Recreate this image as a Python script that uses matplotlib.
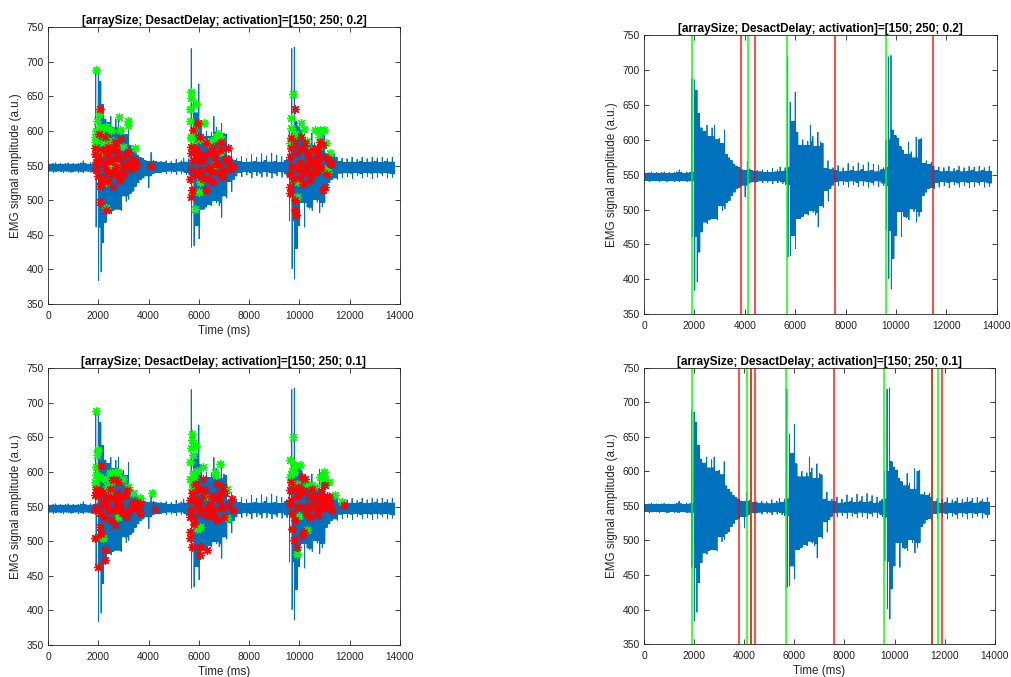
import numpy as np
import matplotlib.pyplot as plt

plt.rcParams['font.family'] = ['Liberation Sans', 'DejaVu Sans']

# EMG trace, upper and lower extremes for every 100 ms bin (0 .. 13700 ms)
bin_ms = 100
emg_hi = [553, 552, 553, 554, 552, 553, 552, 553, 554, 552, 553, 552, 553, 554, 557, 553, 552, 554, 553,
          688, 686, 671, 638, 617, 612, 621, 605, 617, 621, 600, 602, 595, 614, 579, 574, 570, 565, 562,
          560, 557, 556, 569, 558, 556, 555, 556,
          554, 557, 553, 556, 553, 559, 554, 557, 561, 555,
          560, 719, 654, 626, 668, 611, 592, 600, 592, 598, 621, 605, 590, 611, 597, 595, 559, 570, 557, 560,
          556, 563, 554, 560, 555, 566, 556, 562, 555, 567, 557, 564, 555, 568, 556, 565, 554, 563, 557, 560,
          600, 719, 721, 614, 606, 602, 590, 585, 579, 597, 583, 574, 604, 600, 602, 566, 570, 565, 568, 562,
          556, 561, 554, 560, 555, 562, 554, 559, 556, 562, 554, 560, 555, 562, 556, 561, 554, 562, 556, 560,
          555, 562]
emg_lo = [541, 542, 540, 541, 542, 541, 540, 542, 541, 540, 541, 542, 540, 541, 540, 542, 541, 540, 541,
          461, 384, 396, 439, 468, 482, 480, 485, 487, 487, 485, 506, 498, 501, 510, 513, 520, 525, 530,
          532, 535, 518, 535, 538, 540, 539, 540,
          541, 538, 542, 539, 541, 537, 542, 538, 540, 537,
          536, 432, 434, 463, 444, 487, 487, 490, 494, 492, 499, 496, 492, 475, 506, 503, 527, 512, 530, 535,
          540, 534, 541, 536, 540, 532, 541, 535, 539, 533, 541, 534, 540, 532, 539, 535, 541, 533, 538, 534,
          470, 401, 386, 430, 463, 497, 461, 490, 488, 485, 501, 497, 482, 490, 497, 520, 525, 530, 532, 530,
          539, 532, 540, 534, 539, 531, 540, 535, 538, 532, 540, 534, 539, 531, 540, 533, 539, 535, 540, 532,
          538, 533]

# detected samples, activation = 0.2
g02_t = [1924, 2030, 1964, 2057, 1884, 1858, 2123, 2322, 2521, 2826, 2853, 3185, 3185, 3450, 2190, 2654, 2986,
         2455, 2322, 2296, 2720, 2057, 1900, 2250, 2600, 2400,
         5706, 5706, 5666, 5640, 5905, 6197, 5812, 5706, 6038, 6370, 6701, 6768, 6038, 6011, 5839, 6568, 6834,
         5680, 5760, 6500, 6900,
         9754, 9661, 9688, 9820, 10085, 10178, 10616, 10841, 10974, 10788, 11080, 11212, 10483, 9953, 9913,
         9621, 11146, 11013, 9700, 10300, 10900]
g02_v = [688, 625, 615, 606, 591, 584, 596, 606, 601, 620, 601, 615, 608, 575, 582, 577, 577,
         548, 488, 526, 550, 567, 600, 590, 585, 580,
         656, 647, 632, 615, 639, 612, 601, 591, 589, 582, 591, 596, 526, 512, 487, 550, 570,
         590, 580, 585, 588,
         653, 618, 604, 596, 611, 603, 601, 601, 601, 591, 582, 568, 572, 526, 504,
         582, 541, 545, 590, 585, 580]
r02_t = [2057, 2017, 1858, 1924, 1924, 2123, 2057, 2322, 2256, 2389, 2654, 2919, 3185, 3384, 3517, 4114,
         2588, 2853, 2455, 2720, 3052, 2190, 2322, 1990, 2787, 2588, 2986, 3251,
         1880, 1950, 2100, 2150, 2200, 2280, 2350, 2420, 2500, 2550, 2650, 2750, 2820, 2900, 3000, 3100,
         3300, 3450, 2000, 2050, 2400, 2700,
         5972, 5773, 6038, 5706, 5972, 6303, 6568, 6900, 7165, 7165, 7364, 5706, 5746, 6303, 6038, 6436,
         6701, 6967, 7232, 6170, 5839, 6568, 6834, 5773, 6369,
         5680, 5700, 5900, 6000, 6100, 6250, 6350, 6450, 6550, 6650, 6750, 6850, 6950, 7050, 7300, 5650,
         5850, 6150, 6600, 7100,
         9820, 9820, 9621, 9621, 9621, 9648, 9820, 9847, 9886, 10085, 10217, 10350, 10483, 10416, 10682,
         10815, 10947, 11013, 11212, 10947, 11013, 10019, 10284, 10616, 10749, 10151, 10815,
         9650, 9700, 9750, 9900, 9950, 10050, 10200, 10300, 10450, 10550, 10650, 10750, 10850, 11100, 11250,
         9680, 10000, 10400, 10700, 11150]
r02_v = [632, 596, 567, 555, 543, 524, 498, 486, 591, 577, 584, 589, 570, 560, 550, 550,
         519, 529, 558, 548, 550, 534, 543, 563, 563, 538, 538, 555,
         575, 548, 560, 530, 572, 552, 566, 540, 572, 556, 544, 568, 536, 560, 548, 566,
         545, 555, 535, 520, 528, 575,
         611, 601, 591, 577, 567, 582, 577, 584, 575, 560, 550, 505, 514, 514, 543, 548,
         553, 543, 548, 558, 538, 526, 538, 558, 531,
         545, 568, 572, 556, 534, 565, 545, 570, 540, 562, 552, 572, 534, 556, 545, 530,
         575, 530, 568, 560,
         632, 582, 563, 538, 519, 510, 500, 486, 478, 591, 582, 563, 538, 529, 558,
         584, 579, 563, 553, 514, 519, 553, 548, 548, 567, 524, 548,
         575, 550, 530, 568, 545, 575, 540, 570, 555, 572, 540, 560, 545, 538, 552,
         590, 532, 552, 575, 560]

# detected samples, activation = 0.1
g01_t = [1928, 1994, 1968, 1928, 1861, 1928, 2061, 2460, 2659, 2792, 2991, 3191, 3390, 3656, 4121, 1861,
         2194, 2792, 2460, 1900, 2250, 2550, 2350,
         5717, 5717, 5677, 5784, 5890, 5650, 6183, 5784, 5717, 5917, 6648, 6847, 7113, 7113, 5917, 6050,
         5717, 6316, 5660, 5820, 6700,
         9732, 9639, 9772, 9705, 10038, 9639, 9905, 10304, 10504, 10837, 10970, 11037, 11170, 11436, 11702,
         9892, 9985, 10304, 10703, 9680, 9800, 10950]
g01_v = [688, 631, 624, 607, 586, 578, 593, 598, 600, 600, 590, 578, 569, 562, 569, 504,
         504, 535, 573, 595, 590, 585, 580,
         655, 646, 634, 624, 638, 615, 607, 598, 586, 602, 600, 612, 576, 533, 518, 521,
         576, 564, 590, 592, 595,
         651, 617, 610, 602, 610, 593, 583, 583, 581, 593, 600, 590, 586, 566, 557,
         481, 537, 516, 578, 585, 600, 590]
r01_t = [2127, 1861, 1861, 1861, 1994, 2260, 2260, 2127, 2593, 2792, 3124, 2858, 3324, 3656, 4254, 2460,
         2194, 2659, 2991, 2061, 2393, 2726, 3124, 3523, 3656,
         1900, 1950, 2000, 2080, 2150, 2220, 2300, 2370, 2450, 2520, 2600, 2680, 2760, 2850, 2950, 3050,
         3250, 3400, 3550, 2050,
         6183, 5850, 5650, 5650, 5650, 5717, 6050, 6316, 6050, 6714, 6980, 7312, 7379, 5917, 6183, 6449,
         6714, 6980, 5784, 6316, 6714, 6050, 6582,
         5680, 5720, 5800, 5950, 6000, 6100, 6250, 6380, 6500, 6600, 6800, 6900, 7050, 7200, 5660, 5900,
         6150, 6450, 6850, 7000,
         10104, 10237, 9639, 9639, 9705, 9772, 9905, 10104, 10171, 10570, 10837, 11037, 11236, 11766,
         10038, 10371, 10703, 10903, 11170, 10437, 9905, 10304,
         9650, 9700, 9760, 9830, 9960, 10060, 10200, 10280, 10500, 10620, 10760, 10850, 10980, 11100, 11300,
         9670, 9950, 10400, 10600, 11050]
r01_v = [608, 566, 545, 504, 463, 473, 487, 511, 588, 586, 574, 564, 552, 554, 547, 545,
         554, 523, 542, 573, 564, 554, 535, 557, 540,
         575, 550, 565, 540, 570, 535, 560, 548, 575, 530, 562, 545, 570, 552, 540, 565,
         545, 555, 548, 520,
         590, 583, 559, 513, 504, 492, 492, 487, 480, 583, 578, 561, 545, 554, 564, 554,
         564, 550, 535, 537, 530, 545, 545,
         545, 570, 525, 575, 555, 540, 572, 548, 565, 535, 560, 548, 570, 552, 535, 560,
         575, 540, 570, 535,
         593, 590, 574, 554, 518, 501, 492, 509, 513, 554, 564, 581, 554, 552,
         569, 564, 545, 554, 564, 535, 549, 549,
         560, 540, 575, 530, 565, 550, 572, 540, 575, 555, 538, 572, 548, 565, 545,
         585, 578, 550, 565, 560]

# onset (green) and offset (red) times
on02 = [1890, 4120, 5655, 9620]
off02 = [3830, 4400, 7595, 11480]
on01 = [1900, 4095, 4255, 5660, 9595, 11480, 11725]
off01 = [3805, 4255, 4415, 7575, 11500, 11885]

title02 = '[arraySize; DesactDelay; activation]=[150; 250; 0.2]'
title01 = '[arraySize; DesactDelay; activation]=[150; 250; 0.1]'

# dense zigzag: the first swing of each bin reaches the bin's extremes,
# the remaining swings stay inside the smaller neighbouring extremes
swings = 4
hi = np.array(emg_hi, dtype=float)
lo = np.array(emg_lo, dtype=float)
hi_pad = np.pad(hi, 1, mode='edge')
lo_pad = np.pad(lo, 1, mode='edge')
hi_in = np.minimum(hi, np.minimum(hi_pad[:-2], hi_pad[2:]))
lo_in = np.maximum(lo, np.maximum(lo_pad[:-2], lo_pad[2:]))

t0 = np.arange(len(hi)) * bin_ms
step = bin_ms / (2 * swings)
k = np.arange(2 * swings)
sig_t = (t0[:, None] + k[None, :] * step).ravel()
top = np.where(k[None, :] == 0, hi[:, None], hi_in[:, None])
bot = np.where(k[None, :] == 1, lo[:, None], lo_in[:, None])
sig_v = np.where(k[None, :] % 2 == 0, top, bot).ravel()

blue = '#0072BD'
dark = '#262626'
star = (8, 2, 0)

fig = plt.figure(figsize=(10.11, 6.77), dpi=100)
ax_tl = fig.add_axes([0.0475, 0.551, 0.348, 0.409])
ax_tr = fig.add_axes([0.637, 0.536, 0.349, 0.412])
ax_bl = fig.add_axes([0.0475, 0.0473, 0.348, 0.409])
ax_br = fig.add_axes([0.637, 0.0487, 0.347, 0.408])


def style(ax, title, xlabel=True):
    ax.set_xlim(0, 14000)
    ax.set_ylim(350, 750)
    ax.set_xticks(range(0, 14001, 2000))
    ax.set_yticks(range(350, 751, 50))
    ax.tick_params(direction='in', top=True, right=True, length=3.5, width=0.6,
                   labelsize=7.4, colors=dark, pad=3)
    ax.tick_params(axis='x', pad=5)
    for s in ax.spines.values():
        s.set_linewidth(0.6)
        s.set_color(dark)
    ax.set_title(title, fontsize=8.5, fontweight='bold', pad=2)
    ax.set_ylabel('EMG signal amplitude (a.u.)', fontsize=8.4, color=dark, labelpad=3)
    if xlabel:
        ax.set_xlabel('Time (ms)', fontsize=8.4, color=dark, labelpad=3)


for ax, gt, gv, rt, rv, title in [(ax_tl, g02_t, g02_v, r02_t, r02_v, title02),
                                  (ax_bl, g01_t, g01_v, r01_t, r01_v, title01)]:
    ax.plot(sig_t, sig_v, color=blue, lw=0.6)
    ax.plot(gt, gv, ls='none', marker=star, ms=6.5, mew=0.9, color='#00FF00')
    ax.plot(rt, rv, ls='none', marker=star, ms=6.5, mew=0.9, color='#FF0000')
    style(ax, title)

for ax, on, off, title, xl in [(ax_tr, on02, off02, title02, False),
                               (ax_br, on01, off01, title01, True)]:
    ax.plot(sig_t, sig_v, color=blue, lw=0.6)
    for t in on:
        ax.axvline(t, color='#00FF00', lw=1.4, alpha=0.75)
    for t in off:
        ax.axvline(t, color='#FF0000', lw=1.4, alpha=0.7)
    style(ax, title, xl)

fig.savefig('out.png', dpi=100)
